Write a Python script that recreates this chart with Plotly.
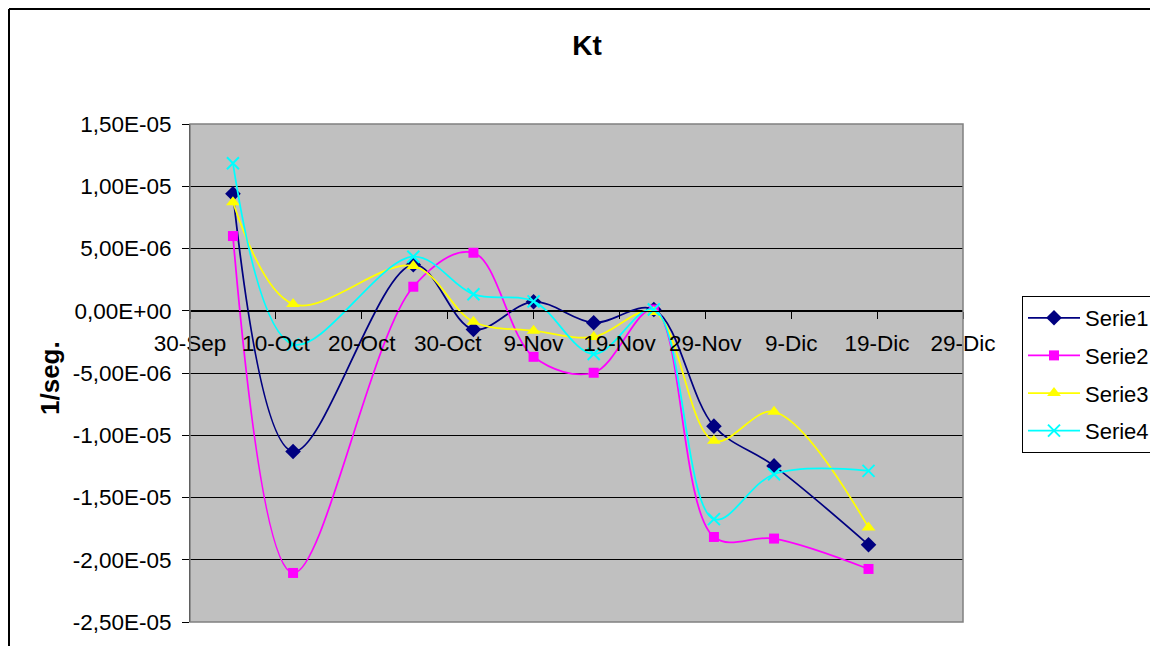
import plotly.graph_objects as go

# ---- data ----
dates = ["2006-10-05", "2006-10-12", "2006-10-26", "2006-11-02", "2006-11-09",
         "2006-11-16", "2006-11-23", "2006-11-30", "2006-12-07", "2006-12-18"]
serie1 = [9.4e-6, -11.3e-6, 3.7e-6, -1.5e-6, 0.72e-6, -0.96e-6, 0.1e-6, -9.27e-6, -12.46e-6, -18.8e-6]
serie2 = [6.0e-6, -21.06e-6, 1.93e-6, 4.66e-6, -3.7e-6, -4.98e-6, 0.1e-6, -18.17e-6, -18.3e-6, -20.74e-6]
serie3 = [8.71e-6, 0.54e-6, 3.59e-6, -0.88e-6, -1.6e-6, -2.1e-6, -0.1e-6, -10.45e-6, -8.12e-6, -17.4e-6]
serie4 = [11.85e-6, -2.7e-6, 4.34e-6, 1.32e-6, 0.75e-6, -3.48e-6, 0.1e-6, -16.74e-6, -13.13e-6, -12.86e-6]

series_names = ["Serie1", "Serie2", "Serie3", "Serie4"]

x_tickvals = ["2006-09-30", "2006-10-10", "2006-10-20", "2006-10-30", "2006-11-09",
              "2006-11-19", "2006-11-29", "2006-12-09", "2006-12-19", "2006-12-29"]
x_ticktext = ["30-Sep", "10-Oct", "20-Oct", "30-Oct", "9-Nov",
              "19-Nov", "29-Nov", "9-Dic", "19-Dic", "29-Dic"]
y_tickvals = [1.5e-5, 1.0e-5, 5.0e-6, 0.0, -5.0e-6, -1.0e-5, -1.5e-5, -2.0e-5, -2.5e-5]
y_ticktext = ["1,50E-05", "1,00E-05", "5,00E-06", "0,00E+00", "-5,00E-06",
              "-1,00E-05", "-1,50E-05", "-2,00E-05", "-2,50E-05"]

# ---- styles ----
FONT = "Liberation Sans, Arial, sans-serif"
styles = [
    dict(color="#000080", symbol="diamond", size=12, mline=0),
    dict(color="#FF00FF", symbol="square", size=10, mline=0),
    dict(color="#FFFF00", symbol="triangle-up", size=12, mline=0),
    dict(color="#00FFFF", symbol="x-thin-open", size=12, mline=2),
]

fig = go.Figure()
for name, vals, st in zip(series_names, [serie1, serie2, serie3, serie4], styles):
    fig.add_trace(go.Scatter(
        x=dates, y=vals, name=name, mode="lines+markers",
        legendgroup=name,
        line=dict(color=st["color"], width=1.75, shape="spline", smoothing=1.0),
        marker=dict(symbol=st["symbol"], size=st["size"], color=st["color"],
                    line=dict(color=st["color"], width=st["mline"])),
    ))

OFF = 8  # page body margin
W, H = 1158 - 2 * OFF, 654 - 2 * OFF
L = 190 - OFF
T = 124 - OFF
R = W - (963 - OFF)
B = H - (622 - OFF)
pw, ph = W - L - R, H - T - B

def px_x(p):  # screen pixel -> paper x
    return (p - OFF - L) / pw

def px_y(p):  # screen pixel -> paper y
    return (H - B - (p - OFF)) / ph

fig.update_layout(
    width=W, height=H,
    margin=dict(l=L, r=R, t=T, b=B, autoexpand=False),
    paper_bgcolor="white",
    plot_bgcolor="#C0C0C0",
    font=dict(family=FONT, color="black", size=22),
    title=dict(text="<b>Kt</b>", x=(587 - OFF) / W, y=1 - (45 - OFF) / H,
               xanchor="center", yanchor="middle",
               font=dict(family=FONT, size=28, color="black")),
    xaxis=dict(
        type="date",
        range=["2006-09-30", "2006-12-29"],
        tickvals=x_tickvals, ticktext=x_ticktext,
        anchor="free", position=0.625,
        showgrid=False, zeroline=False,
        showline=True, linecolor="black", linewidth=1,
        ticks="outside", ticklen=7, tickcolor="black",
        ticklabelstandoff=5,
        tickfont=dict(family=FONT, size=22.5, color="black"),
    ),
    yaxis=dict(
        range=[-2.5e-5, 1.5e-5],
        tickvals=y_tickvals, ticktext=y_ticktext,
        showgrid=True, gridcolor="#000000", gridwidth=1,
        zeroline=False,
        showline=True, linecolor="black", linewidth=1,
        ticks="outside", ticklen=7, tickcolor="black",
        ticklabelstandoff=6,
        tickfont=dict(family=FONT, size=22.5, color="black"),
    ),
    legend=dict(
        x=px_x(1022), y=px_y(296), xanchor="left", yanchor="top",
        bgcolor="white", bordercolor="black", borderwidth=1,
        font=dict(family=FONT, size=22, color="black"),
        tracegroupgap=6, itemwidth=52,
    ),
    showlegend=True,
)

# y-axis title as rotated annotation
fig.add_annotation(
    text="<b>1/seg.</b>", textangle=-90,
    xref="paper", yref="paper", x=px_x(50), y=px_y(378),
    xanchor="center", yanchor="middle", showarrow=False,
    font=dict(family=FONT, size=26, color="black"),
)

# plot area border (gray) and chart area border (black)
fig.add_shape(type="rect", xref="paper", yref="paper", x0=0, x1=1, y0=0, y1=1,
              line=dict(color="#808080", width=1.5), layer="above")
fig.add_shape(type="line", xref="paper", yref="paper",
              x0=px_x(OFF + 1), x1=px_x(OFF + 1), y0=px_y(OFF + 1), y1=px_y(700),
              line=dict(color="black", width=2))
fig.add_shape(type="line", xref="paper", yref="paper",
              x0=px_x(OFF + 1), x1=px_x(1200), y0=px_y(OFF + 1), y1=px_y(OFF + 1),
              line=dict(color="black", width=2))

fig.write_html("out.html")
